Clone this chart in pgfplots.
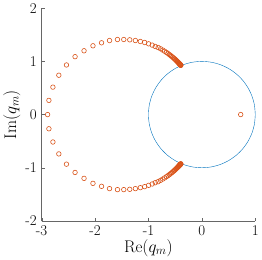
\documentclass[border=0pt]{standalone}
\usepackage{pgfplots}
\pgfplotsset{compat=1.18}
\definecolor{mblue}{rgb}{0,0.447,0.741}
\definecolor{morange}{rgb}{0.85,0.325,0.098}
\begin{document}
\begin{tikzpicture}
\begin{axis}[
  scale only axis, width=215pt, height=214pt,
  xmin=-3, xmax=1, ymin=-2, ymax=2,
  axis x line*=bottom, axis y line*=left,
  axis line style={draw=black!60, line width=0.5pt},
  tick align=inside, major tick length=3pt,
  tick style={draw=black!60},
  xtick={-3,-2,-1,0,1}, ytick={-2,-1,0,1,2},
  xticklabels={-3,-2,-1,0,1}, yticklabels={-2,-1,0,1,2},
  ticklabel style={font=\fontsize{15}{16}\selectfont},
  label style={font=\fontsize{17}{18}\selectfont},
  xlabel={Re$(q_m)$}, ylabel={Im$(q_m)$},
  xlabel style={yshift=3pt}, ylabel style={yshift=-2pt},
  xticklabel style={yshift=-1pt}, yticklabel style={xshift=-1.5pt},
  clip=false,
]
\addplot[mblue, line width=0.4pt, smooth] coordinates {
(1,0) (0.985,0.174) (0.940,0.342) (0.866,0.5) (0.766,0.643) (0.643,0.766) (0.5,0.866) (0.342,0.940) (0.174,0.985) (0,1)
(-0.174,0.985) (-0.342,0.940) (-0.5,0.866) (-0.643,0.766) (-0.766,0.643) (-0.866,0.5) (-0.940,0.342) (-0.985,0.174) (-1,0)
(-0.985,-0.174) (-0.940,-0.342) (-0.866,-0.5) (-0.766,-0.643) (-0.643,-0.766) (-0.5,-0.866) (-0.342,-0.940) (-0.174,-0.985) (0,-1)
(0.174,-0.985) (0.342,-0.940) (0.5,-0.866) (0.643,-0.766) (0.766,-0.643) (0.866,-0.5) (0.940,-0.342) (0.985,-0.174) (1,0)
};
\addplot[only marks, mark=o, mark size=2.3pt, morange, mark options={line width=0.6pt}] coordinates {
(0.727,0)
(-2.888,0)
(-2.864,0.267) (-2.789,0.516) (-2.678,0.740) (-2.535,0.933) (-2.374,1.089) (-2.206,1.200) (-2.039,1.294) (-1.878,1.350) (-1.729,1.393) (-1.580,1.412)
(-1.462,1.412) (-1.350,1.406) (-1.245,1.393) (-1.152,1.375) (-1.071,1.356) (-0.997,1.331) (-0.929,1.306) (-0.873,1.281)
(-0.819,1.262) (-0.773,1.237) (-0.732,1.213) (-0.697,1.191) (-0.664,1.169) (-0.635,1.149) (-0.609,1.130) (-0.586,1.111) (-0.565,1.094) (-0.546,1.078)
(-0.529,1.064) (-0.514,1.050) (-0.502,1.039) (-0.489,1.027) (-0.478,1.016) (-0.468,1.006) (-0.459,0.997) (-0.450,0.988) (-0.443,0.981) (-0.437,0.974)
(-0.431,0.968) (-0.426,0.963) (-0.421,0.958) (-0.416,0.952) (-0.413,0.948) (-0.410,0.945) (-0.406,0.941) (-0.403,0.937) (-0.400,0.934) (-0.398,0.932)
(-0.395,0.928) (-0.394,0.926)
(-2.864,-0.267) (-2.789,-0.516) (-2.678,-0.740) (-2.535,-0.933) (-2.374,-1.089) (-2.206,-1.200) (-2.039,-1.294) (-1.878,-1.350) (-1.729,-1.393) (-1.580,-1.412)
(-1.462,-1.412) (-1.350,-1.406) (-1.245,-1.393) (-1.152,-1.375) (-1.071,-1.356) (-0.997,-1.331) (-0.929,-1.306) (-0.873,-1.281)
(-0.819,-1.262) (-0.773,-1.237) (-0.732,-1.213) (-0.697,-1.191) (-0.664,-1.169) (-0.635,-1.149) (-0.609,-1.130) (-0.586,-1.111) (-0.565,-1.094) (-0.546,-1.078)
(-0.529,-1.064) (-0.514,-1.050) (-0.502,-1.039) (-0.489,-1.027) (-0.478,-1.016) (-0.468,-1.006) (-0.459,-0.997) (-0.450,-0.988) (-0.443,-0.981) (-0.437,-0.974)
(-0.431,-0.968) (-0.426,-0.963) (-0.421,-0.958) (-0.416,-0.952) (-0.413,-0.948) (-0.410,-0.945) (-0.406,-0.941) (-0.403,-0.937) (-0.400,-0.934) (-0.398,-0.932)
(-0.395,-0.928) (-0.394,-0.926)
};
\end{axis}
\end{tikzpicture}
\end{document}
